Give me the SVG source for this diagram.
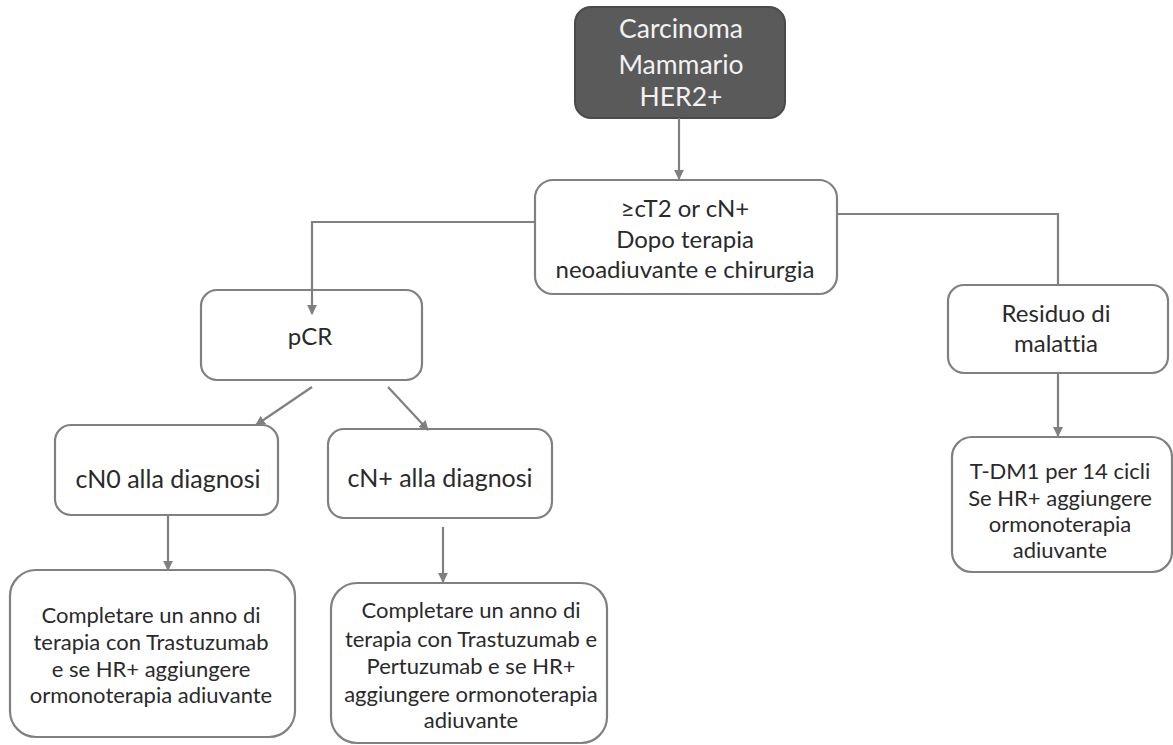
<svg xmlns="http://www.w3.org/2000/svg" width="1173" height="745" viewBox="0 0 1173 745">
<style>
.box{fill:#ffffff;stroke:#808080;stroke-width:2.2}
.dark{fill:#5a5a5a;stroke:#4a4a4a;stroke-width:2}
.t{font-family:Lato,"Liberation Sans",sans-serif;font-size:22px;fill:#2a2a2a;text-anchor:middle;font-variant-ligatures:none}
.m{font-size:24px}
.l{font-size:25px}
.tw{font-family:Lato,"Liberation Sans",sans-serif;font-size:26.5px;fill:#f2f2f2;text-anchor:middle;font-variant-ligatures:none}
.c{fill:none;stroke:#808080;stroke-width:2.2}
</style>
<defs>
<marker id="ah" viewBox="0 0 10 10" refX="9" refY="5" markerWidth="4.5" markerHeight="4.5" orient="auto" markerUnits="strokeWidth">
<path d="M0,0 L10,5 L0,10 z" fill="#808080"/>
</marker>
</defs>
<rect width="1173" height="745" fill="#ffffff"/>
<g id="n-carcinoma">
<rect class="dark" x="575" y="7" width="210" height="111" rx="16"/>
<text class="tw" x="681" y="38">Carcinoma</text>
<text class="tw" x="681" y="74">Mammario</text>
<text class="tw" x="681" y="106">HER2+</text>
</g>
<g id="n-ct2">
<rect class="box" x="535" y="180" width="302" height="114" rx="18"/>
<text class="t m" x="685" y="217">≥cT2 or cN+</text>
<text class="t m" x="685" y="248">Dopo terapia</text>
<text class="t m" x="685" y="278">neoadiuvante e chirurgia</text>
</g>
<g id="n-pcr">
<rect class="box" x="201" y="290" width="221" height="90" rx="16"/>
<text class="t m" x="310" y="345">pCR</text>
</g>
<g id="n-residuo">
<rect class="box" x="948" y="285" width="220" height="88" rx="16"/>
<text class="t m" x="1056" y="322">Residuo di</text>
<text class="t m" x="1056" y="352">malattia</text>
</g>
<g id="n-cn0">
<rect class="box" x="55" y="425" width="223" height="90" rx="16"/>
<text class="t l" x="168" y="488">cN0 alla diagnosi</text>
</g>
<g id="n-cnplus">
<rect class="box" x="328" y="429" width="224" height="89" rx="16"/>
<text class="t l" x="440" y="487">cN+ alla diagnosi</text>
</g>
<g id="n-bottom-left">
<rect class="box" x="10" y="570" width="285" height="167" rx="26"/>
<text class="t" x="151" y="623">Completare un anno di</text>
<text class="t" x="151" y="650">terapia con Trastuzumab</text>
<text class="t" x="151" y="677">e se HR+ aggiungere</text>
<text class="t" x="151" y="703">ormonoterapia adiuvante</text>
</g>
<g id="n-bottom-mid">
<rect class="box" x="331" y="583" width="276" height="160" rx="26"/>
<text class="t" x="471" y="618">Completare un anno di</text>
<text class="t" x="471" y="647">terapia con Trastuzumab e</text>
<text class="t" x="471" y="674">Pertuzumab e se HR+</text>
<text class="t" x="471" y="702">aggiungere ormonoterapia</text>
<text class="t" x="471" y="728">adiuvante</text>
</g>
<g id="n-tdm1">
<rect class="box" x="952" y="437" width="220" height="135" rx="20"/>
<text class="t" x="1060" y="479">T-DM1 per 14 cicli</text>
<text class="t" x="1060" y="506">Se HR+ aggiungere</text>
<text class="t" x="1060" y="532">ormonoterapia</text>
<text class="t" x="1060" y="558">adiuvante</text>
</g>
<g id="connectors">
<line class="c" x1="679" y1="118" x2="679" y2="179" marker-end="url(#ah)"/>
<path class="c" d="M535,222 H312 V314" marker-end="url(#ah)"/>
<path class="c" d="M837,214 H1058 V285"/>
<line class="c" x1="312" y1="387" x2="256" y2="425" marker-end="url(#ah)"/>
<line class="c" x1="388" y1="387" x2="428" y2="430" marker-end="url(#ah)"/>
<line class="c" x1="168" y1="515" x2="168" y2="570" marker-end="url(#ah)"/>
<line class="c" x1="443" y1="527" x2="443" y2="582" marker-end="url(#ah)"/>
<line class="c" x1="1058" y1="373" x2="1058" y2="436" marker-end="url(#ah)"/>
</g>
</svg>
